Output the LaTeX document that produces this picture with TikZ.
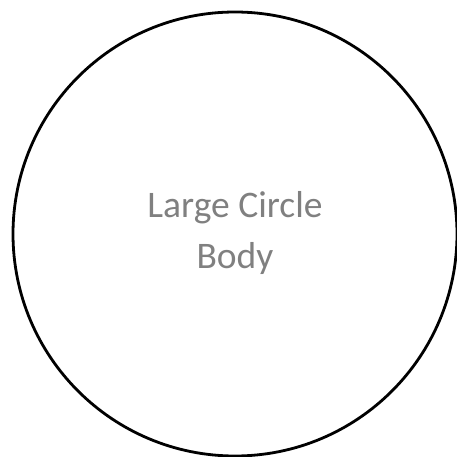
\documentclass[tikz,border=0pt]{standalone}
\usepackage{fontspec}
\setmainfont{Carlito}
\definecolor{txtgray}{HTML}{808080}
\tikzset{
  body/.style={draw=black, line width=2.8pt, circle, minimum size=444pt, inner sep=0pt},
  lbl/.style={text=txtgray, font=\fontsize{37.5}{51}\selectfont, align=center}
}
\begin{document}
\begin{tikzpicture}[x=1pt,y=-1pt]
\useasboundingbox (0,0) rectangle (457,457);
\node[body] (c) at (235,234) {};
\node[lbl, anchor=base] (t) at (235,268) {Large Circle\\Body};
\end{tikzpicture}
\end{document}
